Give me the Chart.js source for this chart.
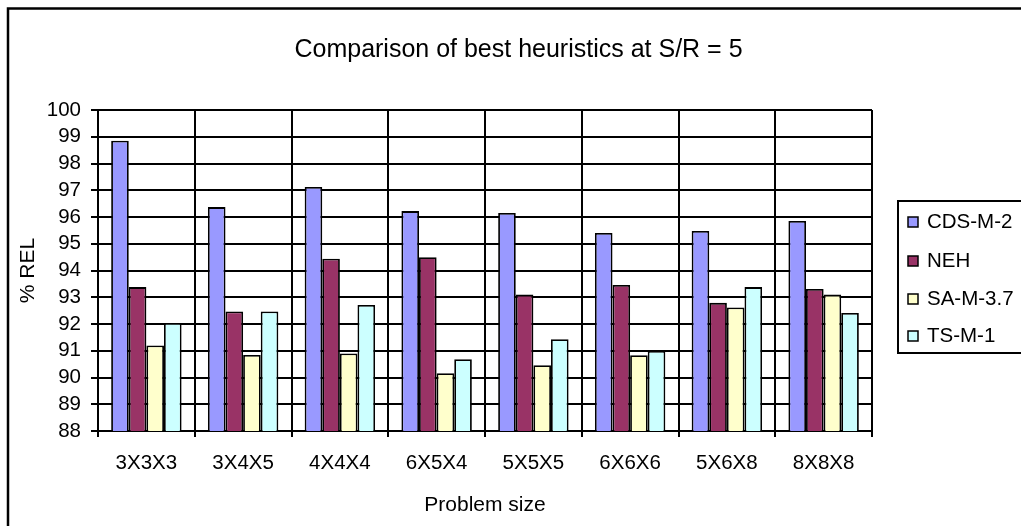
<!DOCTYPE html>
<html>
<head>
<meta charset="utf-8">
<script src="https://cdn.jsdelivr.net/npm/chart.js@4/dist/chart.umd.min.js"></script>
<style>
  body { margin: 0; background: #fff; }
  canvas { display: block; }
</style>
</head>
<body>
<canvas id="chart" width="1021" height="526"></canvas>
<script>
const categories = ['3X3X3', '3X4X5', '4X4X4', '6X5X4', '5X5X5', '6X6X6', '5X6X8', '8X8X8'];
const seriesNames = ['CDS-M-2', 'NEH', 'SA-M-3.7', 'TS-M-1'];
const cds = [98.85, 96.37, 97.12, 96.22, 96.15, 95.40, 95.48, 95.85];
const neh = [93.38, 92.47, 94.44, 94.50, 93.10, 93.46, 92.79, 93.31];
const sa = [91.20, 90.84, 90.90, 90.16, 90.46, 90.83, 92.62, 93.10];
const ts = [92.04, 92.47, 92.71, 90.68, 91.43, 90.99, 93.38, 92.41];
const colors = ['#9999FF', '#993366', '#FFFFCC', '#CCFFFF'];

const FONT = 'Arial, "Liberation Sans", sans-serif';

// frame round the whole chart and the boxed legend on the right
const extras = {
    id: 'extras',
    afterDraw(chart) {
        const ctx = chart.ctx;
        ctx.save();
        ctx.strokeStyle = '#000';
        ctx.lineWidth = 2.5;
        ctx.strokeRect(8, 8.5, 1040, 560);

        ctx.lineWidth = 2;
        ctx.strokeRect(898, 201, 140, 152);
        const rows = [222, 261, 299, 336];
        ctx.font = '20.5px ' + FONT;
        ctx.textBaseline = 'middle';
        chart.data.datasets.forEach((ds, i) => {
            ctx.fillStyle = ds.backgroundColor;
            ctx.fillRect(908, rows[i] - 5, 10, 10);
            ctx.lineWidth = 1.5;
            ctx.strokeRect(908, rows[i] - 5, 10, 10);
            ctx.fillStyle = '#000';
            ctx.fillText(ds.label, 927, rows[i]);
        });
        ctx.restore();
    }
};

const datasets = [cds, neh, sa, ts].map((vals, i) => ({
    label: seriesNames[i],
    data: vals,
    backgroundColor: colors[i],
    borderColor: '#000',
    borderWidth: 1.8,
    borderSkipped: false,
    categoryPercentage: 0.728,
    barPercentage: 1
}));

new Chart(document.getElementById('chart'), {
    type: 'bar',
    data: { labels: categories, datasets: datasets },
    plugins: [extras],
    options: {
        responsive: false,
        animation: false,
        devicePixelRatio: 1,
        layout: { padding: { left: 16, right: 0, top: 0, bottom: 8 } },
        plugins: {
            legend: { display: false },
            tooltip: { enabled: false },
            title: {
                display: true,
                text: 'Comparison of best heuristics at S/R = 5',
                color: '#000',
                font: { family: FONT, size: 25, weight: 'normal', lineHeight: 1.2 },
                padding: { top: 35, bottom: 45 }
            }
        },
        scales: {
            x: {
                grid: { color: '#000', lineWidth: 2, tickLength: 6, offset: true },
                border: { color: '#000', width: 2 },
                ticks: { color: '#000', padding: 14, maxRotation: 0, autoSkip: false, font: { family: FONT, size: 20.5 } },
                title: {
                    display: true, text: 'Problem size', color: '#000', padding: 0,
                    font: { family: FONT, size: 21, lineHeight: 1.2 }
                },
                afterFit: s => { s.height = 87; }
            },
            y: {
                min: 88,
                max: 100,
                ticks: { stepSize: 1, autoSkip: false, color: '#000', padding: 10, font: { family: FONT, size: 20.5 } },
                grid: { color: '#000', lineWidth: 2, tickLength: 7 },
                border: { color: '#000', width: 2 },
                title: {
                    display: true, text: '% REL', color: '#000', padding: 0,
                    font: { family: FONT, size: 21, lineHeight: 1.2 }
                },
                afterFit: s => { s.width = 82; }
            },
            y2: {
                position: 'right',
                grid: { display: false },
                border: { display: false },
                ticks: { display: false },
                afterFit: s => { s.width = 149; }
            }
        }
    }
});
</script>
</body>
</html>
